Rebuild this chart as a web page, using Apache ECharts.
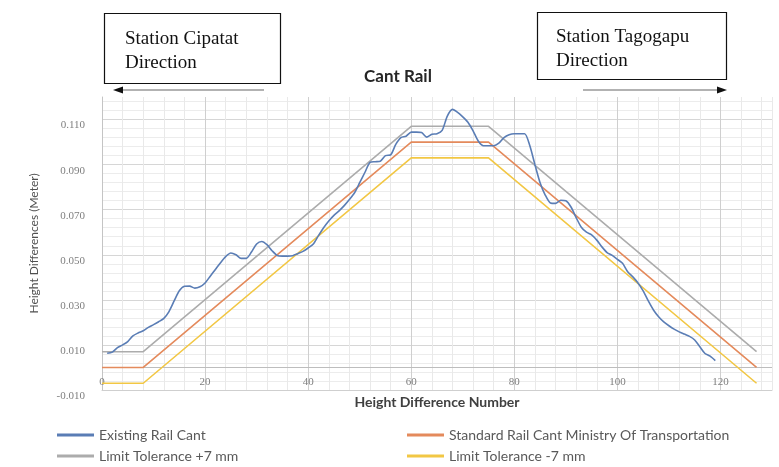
<!DOCTYPE html>
<html>
<head>
<meta charset="utf-8">
<script src="https://cdn.jsdelivr.net/npm/echarts@6/dist/echarts.min.js"></script>
<style>html,body{margin:0;padding:0;background:#fff;}#c{width:779px;height:467px;}</style>
</head>
<body>
<div id="c"></div>
<script>
const seriesNames = ['Existing Rail Cant', 'Standard Rail Cant Ministry Of Transportation', 'Limit Tolerance +7 mm', 'Limit Tolerance -7 mm'];
const existingRailCant = [
  [1,0.0063],[2,0.0068],[3,0.0088],[4,0.0100],[5,0.0115],[6,0.0140],[7,0.0153],[8,0.0163],[9,0.0178],[10,0.0190],
  [11,0.0203],[12,0.0218],[13,0.0248],[14,0.0295],[15,0.0340],[16,0.0360],[17,0.0361],[18,0.0352],[19,0.0358],[20,0.0375],
  [21,0.0405],[22,0.0435],[23,0.0465],[24,0.0492],[25,0.0508],[26,0.0500],[27,0.0484],[28,0.0484],[29,0.0512],[30,0.0548],
  [31,0.0559],[32,0.0545],[33,0.0518],[34,0.0497],[35,0.0494],[36,0.0494],[37,0.0496],[38,0.0505],[39,0.0515],[40,0.0530],
  [41,0.0548],[42,0.0585],[43,0.0620],[44,0.0650],[45,0.0675],[46,0.0695],[47,0.0718],[48,0.0745],[49,0.0775],[50,0.0820],
  [51,0.0865],[52,0.0910],[53,0.0913],[54,0.0915],[55,0.0940],[56,0.0943],[57,0.0990],[58,0.1020],[59,0.1026],[60,0.1044],
  [61,0.1044],[62,0.1042],[63,0.1022],[64,0.1035],[65,0.1037],[66,0.1052],[67,0.1115],[68,0.1145],[69,0.1132],[70,0.1112],
  [71,0.1088],[72,0.1050],[73,0.1005],[74,0.0984],[75,0.0984],[76,0.0984],[77,0.0995],[78,0.1020],[79,0.1033],[80,0.1037],
  [81,0.1037],[82,0.1037],[83,0.0985],[84,0.0900],[85,0.0820],[86,0.0765],[87,0.0730],[88,0.0728],[89,0.0742],[90,0.0740],
  [91,0.0712],[92,0.0665],[93,0.0622],[94,0.0600],[95,0.0588],[96,0.0565],[97,0.0535],[98,0.0510],[99,0.0497],[100,0.0480],
  [101,0.0462],[102,0.0425],[103,0.0402],[104,0.0375],[105,0.0340],[106,0.0295],[107,0.0255],[108,0.0225],[109,0.0202],[110,0.0185],
  [111,0.0170],[112,0.0158],[113,0.0148],[114,0.0138],[115,0.0122],[116,0.0092],[117,0.0062],[118,0.0050],[119,0.0030]
];
const standardCant = [[0,0],[8,0],[60,0.100],[75,0.100],[127,0]];
const limitPlus7 = [[0,0.007],[8,0.007],[60,0.107],[75,0.107],[127,0.007]];
const limitMinus7 = [[0,-0.007],[8,-0.007],[60,0.093],[75,0.093],[127,-0.007]];
const xLabelValues = [0,20,40,60,80,100,120];
const yLabelValues = [-0.010,0.010,0.030,0.050,0.070,0.090,0.110];

const colors = ['#5a7db5', '#e48a5c', '#acacac', '#f2c744'];
const chart = echarts.init(document.getElementById('c'));

const yMajor = '#d6d6d6', yMinor = '#ececec', none = 'rgba(0,0,0,0)';
const xMajor = '#cfcfcf', xMinor = '#e9e9e9';
const legendText = {fontFamily: 'Lato', fontSize: 14, color: '#595959'};
function legendItem(name, left, top) {
  return {data: [name], left: left, top: top, padding: 0, icon: 'rect', itemWidth: 37, itemHeight: 3, itemGap: 4, textStyle: legendText};
}
function lineSeries(idx, data, extra) {
  return Object.assign({
    name: seriesNames[idx], type: 'line', data: data, showSymbol: false,
    lineStyle: {width: 1.6, color: colors[idx]}, itemStyle: {color: colors[idx]}, z: 3
  }, extra || {});
}

chart.setOption({
  animation: false,
  color: colors,
  title: {
    text: 'Cant Rail', left: 393, top: 63, textAlign: 'center',
    textStyle: {fontFamily: 'Lato', fontWeight: 'bold', fontSize: 17, color: '#262626'}
  },
  grid: {left: 102, right: 7, top: 97, bottom: 77, containLabel: false},
  legend: [
    legendItem(seriesNames[0], 57, 428),
    legendItem(seriesNames[2], 57, 449),
    legendItem(seriesNames[1], 407, 428),
    legendItem(seriesNames[3], 407, 449)
  ],
  xAxis: {
    type: 'value', min: 0, max: 130, interval: 4,
    name: 'Height Difference Number', nameLocation: 'middle', nameGap: 4,
    nameTextStyle: {fontFamily: 'Lato', fontWeight: 'bold', fontSize: 14, color: '#404040'},
    axisLine: {onZero: false, lineStyle: {color: '#cfcfcf', width: 1}},
    axisTick: {show: false},
    axisLabel: {
      margin: -13, fontFamily: 'Liberation Serif', fontSize: 11, color: '#7f7f7f',
      formatter: v => xLabelValues.indexOf(Math.round(v)) >= 0 && Math.abs(v - Math.round(v)) < 1e-6 ? String(Math.round(v)) : ''
    },
    splitLine: {show: true, lineStyle: {color: [xMajor, xMinor, xMinor, xMinor, xMinor], width: 1}}
  },
  yAxis: {
    type: 'value', min: -0.01, max: 0.12, interval: 0.002,
    name: 'Height Differences (Meter)', nameLocation: 'middle', nameGap: 62,
    nameTextStyle: {fontFamily: 'Lato', fontSize: 12, color: '#505050'},
    axisLine: {show: true, lineStyle: {color: '#c4c4c4', width: 1}},
    axisTick: {show: false},
    axisLabel: {
      margin: 17, verticalAlign: 'top', lineHeight: 12, fontFamily: 'Liberation Serif', fontSize: 11, color: '#7f7f7f',
      formatter: v => {
        for (const t of yLabelValues) { if (Math.abs(v - t) < 1e-6) return t.toFixed(3); }
        return '';
      }
    },
    splitLine: {show: true, lineStyle: {color: [yMajor, none, yMinor, none, yMinor, none, yMinor, none, yMinor, none], width: 1}}
  },
  series: [
    lineSeries(0, existingRailCant, {smooth: 0.25, z: 5}),
    lineSeries(1, standardCant, {
      markLine: {silent: true, z: 2, symbol: 'none', label: {show: false}, animation: false,
                 lineStyle: {color: '#bdbdbd', type: 'solid', width: 1}, data: [{yAxis: 0}]}
    }),
    lineSeries(2, limitPlus7),
    lineSeries(3, limitMinus7)
  ],
  graphic: [
    {type: 'rect', shape: {x: 104.5, y: 13.5, width: 176, height: 70}, style: {fill: '#fff', stroke: '#111', lineWidth: 1.2}},
    {type: 'text', left: 125, top: 27, style: {text: 'Station Cipatat\nDirection', font: '19px "Liberation Serif"', fill: '#111', lineHeight: 24}},
    {type: 'rect', shape: {x: 537.5, y: 12.5, width: 189, height: 67}, style: {fill: '#fff', stroke: '#111', lineWidth: 1.2}},
    {type: 'text', left: 556, top: 25, style: {text: 'Station Tagogapu\nDirection', font: '19px "Liberation Serif"', fill: '#111', lineHeight: 24}},
    {type: 'line', shape: {x1: 120, y1: 90, x2: 264, y2: 90}, style: {stroke: '#999', lineWidth: 1.5}},
    {type: 'polygon', shape: {points: [[113, 90], [123, 86.5], [123, 93.5]]}, style: {fill: '#111'}},
    {type: 'line', shape: {x1: 583, y1: 90, x2: 719, y2: 90}, style: {stroke: '#999', lineWidth: 1.5}},
    {type: 'polygon', shape: {points: [[727, 90], [717, 86.5], [717, 93.5]]}, style: {fill: '#111'}}
  ]
});
</script>
</body>
</html>
